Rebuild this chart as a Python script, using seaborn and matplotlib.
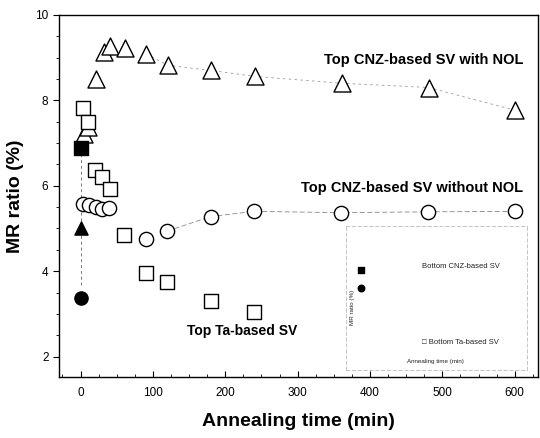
"""
plot.py - MR ratio vs annealing time
"""

import numpy as np
import pandas as pd
import matplotlib
matplotlib.use('Agg')
import matplotlib.pyplot as plt
import seaborn as sns

sns.set_style('ticks')
plt.rcParams['font.family'] = ['Liberation Sans', 'DejaVu Sans']
plt.rcParams['text.color'] = 'black'
plt.rcParams['axes.labelcolor'] = 'black'
plt.rcParams['xtick.color'] = 'black'
plt.rcParams['ytick.color'] = 'black'

# Top CNZ-based SV with NOL (open triangles)
t_nol = [5, 10, 21, 32, 41, 61, 91, 121, 180, 241, 361, 481, 600]
mr_nol = [7.22, 7.38, 8.5, 9.13, 9.28, 9.22, 9.08, 8.82, 8.7, 8.56, 8.4, 8.3, 7.77]

# Top CNZ-based SV without NOL (open circles)
t_wo = [3, 11, 21, 30, 39, 90, 120, 180, 240, 360, 480, 600]
mr_wo = [5.58, 5.56, 5.5, 5.46, 5.48, 4.75, 4.94, 5.28, 5.4, 5.37, 5.39, 5.4]

# Top Ta-based SV (open squares)
t_ta = [4, 10, 20, 29, 40, 60, 90, 120, 180, 240]
mr_ta = [7.82, 7.5, 6.38, 6.2, 5.92, 4.85, 3.95, 3.74, 3.3, 3.04]

# as-deposited points (filled)
asdep_t = [0, 0, 0]
asdep_mr = [6.88, 5.0, 3.38]
asdep_marker = ['s', '^', 'o']

labels = ['Top CNZ-based SV with NOL', 'Top CNZ-based SV without NOL',
          'Top Ta-based SV']

# inset (bottom-pinned SVs), in inset data units
inset_t = [28, 28]
inset_mr = [7.4, 6.3]
inset_marker = ['s', 'o']

fig = plt.figure(figsize=(5.4, 4.38), dpi=100)
ax = fig.add_axes([0.109, 0.139, 0.887, 0.827])

# faint dotted guide lines
ax.plot(t_nol[6:], mr_nol[6:], ls=(0, (3, 4)), lw=0.6, color='#999999', zorder=1)
ax.plot(t_wo[6:], mr_wo[6:], ls=(0, (6, 3)), lw=0.6, color='#888888', zorder=1)
ax.plot([0, 0], [asdep_mr[2] + 0.3, asdep_mr[0]], ls=(0, (3, 3)), lw=0.7,
        color='#777777', zorder=1)

sns.scatterplot(x=t_nol, y=mr_nol, marker='^', s=150, facecolor='white',
                edgecolor='black', linewidth=1.0, ax=ax, zorder=3)
sns.scatterplot(x=t_wo, y=mr_wo, marker='o', s=105, facecolor='white',
                edgecolor='black', linewidth=1.0, ax=ax, zorder=3)
sns.scatterplot(x=t_ta, y=mr_ta, marker='s', s=95, facecolor='white',
                edgecolor='black', linewidth=1.0, ax=ax, zorder=3)
for tt, mm, mk in zip(asdep_t, asdep_mr, asdep_marker):
    ax.scatter(tt, mm, marker=mk, s=90, color='black', zorder=4)

ax.text(612, 8.95, labels[0], ha='right', va='center', fontsize=10.5,
        fontweight='bold')
ax.text(612, 5.94, labels[1], ha='right', va='center', fontsize=10.5,
        fontweight='bold')
ax.text(147, 2.6, labels[2], ha='left', va='center', fontsize=10,
        fontweight='bold')

ax.set_xlim(-30, 632)
ax.set_ylim(1.52, 10)
ax.set_xticks([0, 100, 200, 300, 400, 500, 600])
ax.set_yticks([2, 4, 6, 8, 10])
ax.set_xticks(np.arange(-25, 630, 25), minor=True)
ax.set_yticks(np.arange(2, 10, 0.5), minor=True)
ax.tick_params(axis='x', which='both', direction='in', labelsize=8.5, pad=7)
ax.tick_params(axis='y', which='both', direction='out', labelsize=8.5)
ax.tick_params(which='major', length=4)
ax.tick_params(which='minor', length=2)
for sp in ax.spines.values():
    sp.set_linewidth(1.0)
    sp.set_color('black')

ax.set_xlabel('Annealing time (min)', fontsize=14, fontweight='bold', labelpad=10)
ax.set_ylabel('MR ratio (%)', fontsize=14, fontweight='bold', labelpad=8)

# faint inset
ins = fig.add_axes([0.64, 0.155, 0.335, 0.33])
ins.set_facecolor('none')
for tt, mm, mk in zip(inset_t, inset_mr, inset_marker):
    ins.scatter(tt, mm, marker=mk, s=22, color='black')
ins.set_xlim(-30, 632)
ins.set_ylim(1.5, 10)
ins.set_xticks([])
ins.set_yticks([])
for sp in ins.spines.values():
    sp.set_color('#bbbbbb')
    sp.set_linewidth(0.6)
    sp.set_linestyle((0, (4, 3)))
ins.text(250, 7.6, 'Bottom CNZ-based SV', fontsize=5.5, va='center', color='#222222')
ins.text(250, 3.1, '\u25a1 Bottom Ta-based SV', fontsize=5.5, va='center',
         color='#222222')
ins.text(300, 2.0, 'Annealing time (min)', fontsize=4.5, ha='center',
         va='center', color='#222222')
ins.text(-5, 5.2, 'MR ratio (%)', fontsize=4.5, ha='center', va='center',
         rotation=90, color='#222222')

fig.savefig('out.png', dpi=100)
